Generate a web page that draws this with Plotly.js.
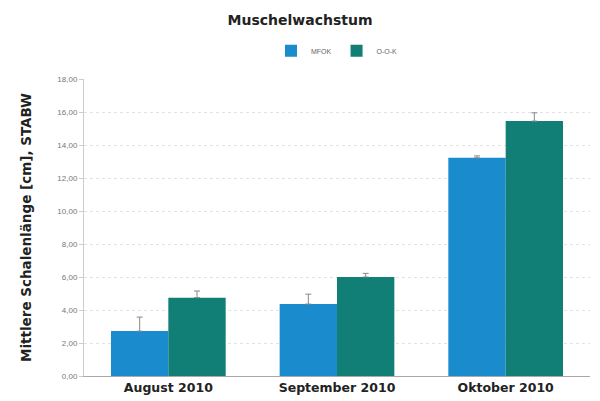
<!DOCTYPE html>
<html><head><meta charset="utf-8">
<script src="https://cdn.plot.ly/plotly-3.0.1.min.js"></script>
<style>body{margin:0;background:#fff}#c{width:600px;height:401px}</style>
</head><body><div id="c"></div>
<script>
const categories = ["August 2010", "September 2010", "Oktober 2010"];
const seriesNames = ["MFOK", "O-O-K"];
const valuesA = [2.72, 4.36, 13.22];
const errorsA = [0.85, 0.6, 0.12];
const valuesB = [4.75, 6.0, 15.45];
const errorsB = [0.4, 0.22, 0.5];
const yTicks = [0, 2, 4, 6, 8, 10, 12, 14, 16, 18];

const traces = [
  {type:'bar', name:seriesNames[0], x:categories, y:valuesA, marker:{color:'#1a8bcd'},
   error_y:{type:'data', array:errorsA, symmetric:false, arrayminus:[0,0,0], color:'#888', thickness:1, width:3}},
  {type:'bar', name:seriesNames[1], x:categories, y:valuesB, marker:{color:'#117f76'},
   error_y:{type:'data', array:errorsB, symmetric:false, arrayminus:[0,0,0], color:'#888', thickness:1, width:3}}
];
const layout = {
  width:600, height:401,
  margin:{l:84, r:10, t:79, b:25},
  paper_bgcolor:'#fff', plot_bgcolor:'#fff',
  separators:',.',
  title:{text:'<b>Muschelwachstum</b>', x:0.5, xanchor:'center', y:0.95, yanchor:'middle',
         font:{family:'DejaVu Sans, Arial, sans-serif', size:14, color:'#222'}},
  showlegend:true,
  legend:{orientation:'h', x:0.5, xanchor:'center', y:1.095, yanchor:'middle',
          font:{family:'Liberation Sans, Arial, sans-serif', size:7, color:'#666'}, itemwidth:30},
  barmode:'group', bargap:0.32, bargroupgap:0,
  xaxis:{tickfont:{family:'DejaVu Sans, Arial, sans-serif', size:12.5, color:'#222'},
         tickprefix:'<b>', ticksuffix:'</b>',
         showline:true, linecolor:'#aaa', linewidth:1, ticks:'', showgrid:false},
  yaxis:{range:[0,18], tickvals:yTicks, tickformat:'.2f',
         tickfont:{family:'Liberation Sans, Arial, sans-serif', size:8, color:'#777'},
         showline:true, linecolor:'#ccc', ticks:'outside', ticklen:4, tickcolor:'#ccc',
         gridcolor:'#e2e2e2', griddash:'dot', zeroline:false,
         title:{text:'<b>Mittlere Schalenlänge [cm], STABW</b>', standoff:22,
                font:{family:'DejaVu Sans, Arial, sans-serif', size:13.5, color:'#222'}}}
};
Plotly.newPlot('c', traces, layout, {displayModeBar:false});
</script></body></html>
